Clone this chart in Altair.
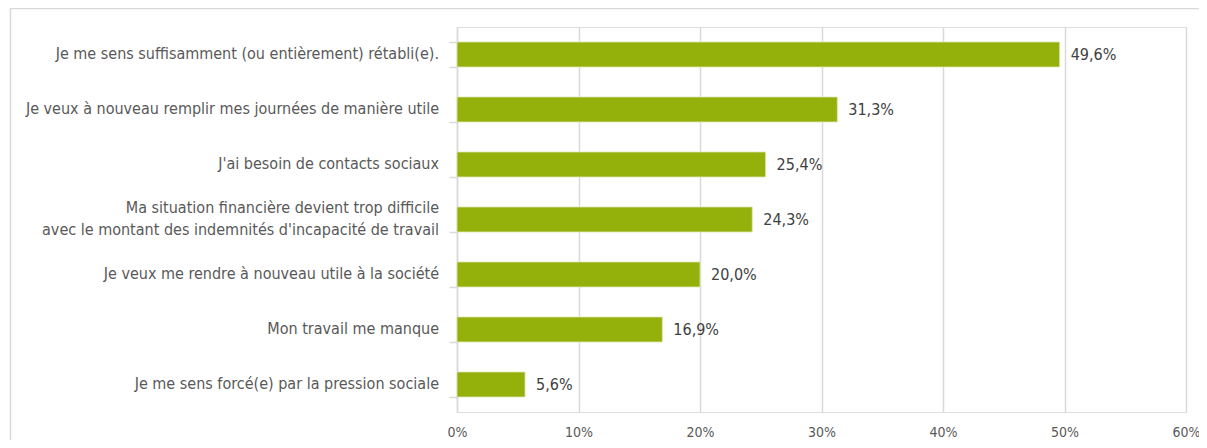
import altair as alt
import pandas as pd

categories = [
    "Je me sens suffisamment (ou entièrement) rétabli(e).",
    "Je veux à nouveau remplir mes journées de manière utile",
    "J'ai besoin de contacts sociaux",
    "Ma situation financière devient trop difficile|avec le montant des indemnités d'incapacité de travail",
    "Je veux me rendre à nouveau utile à la société",
    "Mon travail me manque",
    "Je me sens forcé(e) par la pression sociale",
]
values = [49.6, 31.3, 25.4, 24.3, 20.0, 16.9, 5.6]
x_ticks = [0, 10, 20, 30, 40, 50, 60]

df = pd.DataFrame({"cat": categories, "val": values})

FONT = "Liberation Sans Narrow, DejaVu Sans Condensed, sans-serif"
GREEN = "#94B00A"
GRID = "#d9d9d9"
TEXT = "#595959"

y_enc = alt.Y(
    "cat:N",
    sort=categories,
    title=None,
    scale=alt.Scale(paddingInner=0.545, paddingOuter=0.2725),
    axis=alt.Axis(
        labels=False,
        domainColor=GRID,
        domainWidth=1.5,
        tickColor=GRID,
        tickWidth=1.5,
        tickSize=8,
        tickBand="extent",
        grid=False,
    ),
)

x_enc = alt.X(
    "val:Q",
    title=None,
    scale=alt.Scale(domain=[0, 60], nice=False),
    axis=alt.Axis(
        values=x_ticks,
        labelExpr="datum.value + '%'",
        labelFont=FONT,
        labelFontSize=14,
        labelColor=TEXT,
        labelPadding=13,
        labelFlush=False,
        labelOverlap=False,
        ticks=False,
        domain=False,
        grid=True,
        gridColor=GRID,
        gridWidth=1.5,
    ),
)

base = alt.Chart(df)

bars = base.mark_bar(color=GREEN, stroke="#dfe6b8", strokeWidth=0.8).encode(x=x_enc, y=y_enc)

labels = base.transform_calculate(
    lab="replace(format(datum.val, '.1f'), '.', ',') + '%'"
).mark_text(
    align="left", baseline="middle", dx=11, font=FONT, fontSize=16, color="#404040"
).encode(x="val:Q", y=alt.Y("cat:N", sort=categories), text="lab:N")

cat_labels = base.transform_calculate(
    off="12.5 - (length(split(datum.cat, '|')) - 1) * 11"
).mark_text(
    align="right", baseline="middle", font=FONT, fontSize=16, color=TEXT,
    lineBreak="|", lineHeight=22,
).encode(
    x=alt.value(-18),
    y=alt.Y("cat:N", sort=categories),
    yOffset=alt.YOffset("off:Q", scale=None),
    text="cat:N",
)

frame = alt.Chart(pd.DataFrame({"a": [0]})).mark_rect(
    fill=None, stroke=GRID, strokeWidth=1.5
).encode(
    x=alt.value(-446.5), x2=alt.value(900), y=alt.value(-18.5), y2=alt.value(600)
)

chart = (
    alt.layer(frame, bars, labels, cat_labels)
    .properties(
        width=729,
        height=385,
        autosize=alt.AutoSizeParams(type="none"),
        padding={"left": 449, "top": 19, "right": 13, "bottom": 28},
    )
    .configure_view(stroke=None)
    .configure(background="white")
)

chart.save("out.html", embed_options={"renderer": "svg", "actions": False})
